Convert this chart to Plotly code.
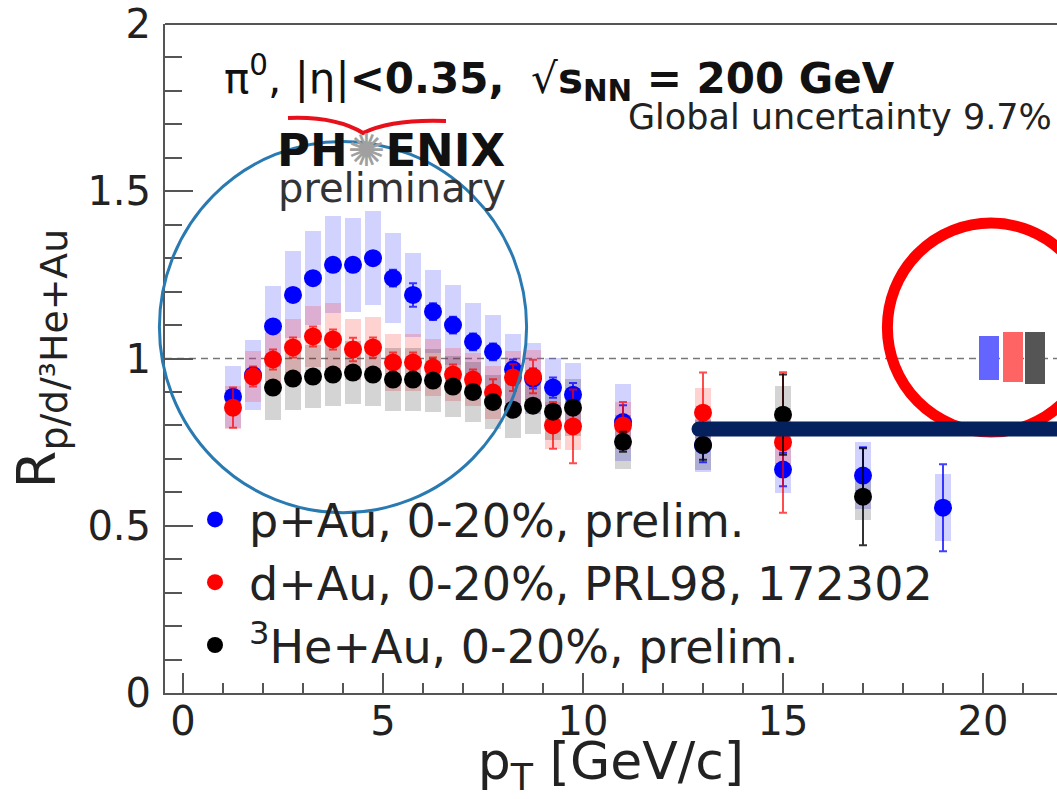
import plotly.graph_objects as go

# ---------------- data ----------------
# p+Au, 0-20% central (preliminary)
pt_pau = [1.25, 1.75, 2.25, 2.75, 3.25, 3.75, 4.25, 4.75, 5.25, 5.75, 6.25, 6.75,
          7.25, 7.75, 8.25, 8.75, 9.25, 9.75, 11, 13, 15, 17, 19]
r_pau = [0.886, 0.95, 1.096, 1.19, 1.24, 1.28, 1.28, 1.30, 1.24, 1.19, 1.14, 1.10,
         1.05, 1.02, 0.967, 0.94, 0.913, 0.892, 0.81, 0.74, 0.668, 0.65, 0.554]
stat_pau = [0.02, 0.02, 0.02, 0.02, 0.02, 0.02, 0.02, 0.02, 0.025, 0.035, 0.025, 0.025,
            0.025, 0.025, 0.03, 0.03, 0.03, 0.035, 0.05, 0.05, 0.05, 0.085, 0.13]
sys_pau = [0.093, 0.105, 0.12, 0.13, 0.14, 0.145, 0.14, 0.14, 0.135, 0.125, 0.125, 0.12,
           0.115, 0.11, 0.105, 0.105, 0.09, 0.095, 0.115, 0.08, 0.07, 0.10, 0.10]

# d+Au, 0-20% central (PRL 98, 172302)
pt_dau = [1.25, 1.75, 2.25, 2.75, 3.25, 3.75, 4.25, 4.75, 5.25, 5.75, 6.25, 6.75,
          7.25, 7.75, 8.25, 8.75, 9.25, 9.75, 11, 13, 15]
r_dau = [0.853, 0.946, 0.997, 1.033, 1.066, 1.057, 1.027, 1.033, 0.988, 0.988, 0.973, 0.952,
         0.937, 0.898, 0.943, 0.946, 0.80, 0.797, 0.80, 0.838, 0.749]
stat_dau = [0.06, 0.03, 0.03, 0.03, 0.03, 0.03, 0.035, 0.03, 0.03, 0.03, 0.03, 0.03,
            0.03, 0.04, 0.04, 0.05, 0.07, 0.11, 0.07, 0.12, 0.21]
sys_dau = [0.065, 0.075, 0.08, 0.085, 0.09, 0.11, 0.09, 0.09, 0.085, 0.085, 0.085, 0.08,
           0.08, 0.08, 0.08, 0.08, 0.07, 0.07, 0.07, 0.075, 0.07]

# 3He+Au, 0-20% central (preliminary)
pt_heau = [2.25, 2.75, 3.25, 3.75, 4.25, 4.75, 5.25, 5.75, 6.25, 6.75, 7.25, 7.75,
           8.25, 8.75, 9.25, 9.75, 11, 13, 15, 17]
r_heau = [0.913, 0.94, 0.946, 0.952, 0.958, 0.952, 0.937, 0.937, 0.934, 0.916, 0.90, 0.87,
          0.847, 0.859, 0.841, 0.853, 0.751, 0.742, 0.832, 0.587]
stat_heau = [0.015, 0.015, 0.015, 0.015, 0.015, 0.015, 0.015, 0.015, 0.015, 0.015, 0.015, 0.02,
             0.02, 0.02, 0.02, 0.02, 0.03, 0.045, 0.12, 0.145]
sys_heau = [0.096, 0.093, 0.095, 0.095, 0.095, 0.095, 0.095, 0.095, 0.095, 0.09, 0.09, 0.08,
            0.085, 0.085, 0.085, 0.085, 0.08, 0.075, 0.085, 0.07]

# global (normalisation) uncertainty boxes at R = 1
glob_x = [20.15, 20.75, 21.3]
glob_lo = [0.937, 0.931, 0.925]
glob_hi = [1.066, 1.078, 1.080]

series_names = ["p+Au, 0-20%, prelim.",
                "d+Au, 0-20%, PRL98, 172302",
                "<sup>3</sup>He+Au, 0-20%, prelim."]
x_ticks = [0, 5, 10, 15, 20]
y_ticks = [0, 0.5, 1, 1.5, 2]

# ---------------- styling ----------------
FONT = "DejaVu Sans"
X_RANGE = [-0.45, 21.85]
Y_RANGE = [0, 2]
W, H = 1057, 799
ML, MR, MT, MB = 165, 0, 24, 106
PW, PH = W - ML - MR, H - MT - MB
AXC = "#555555"


def pxx(v):
    """data x -> paper x"""
    return (v - X_RANGE[0]) / (X_RANGE[1] - X_RANGE[0])


def pxy(v):
    """data y -> paper y"""
    return (v - Y_RANGE[0]) / (Y_RANGE[1] - Y_RANGE[0])


def scr_x(p):
    """screen pixel x -> paper x"""
    return (p - ML) / PW


def scr_y(p):
    """screen pixel y -> paper y"""
    return (H - MB - p) / PH


fig = go.Figure()

# systematic uncertainty boxes
box_w = 0.42
for xs, ys, ss, col in [
    (pt_pau, r_pau, sys_pau, "rgba(90,90,255,0.27)"),
    (pt_dau, r_dau, sys_dau, "rgba(255,50,50,0.22)"),
    (pt_heau, r_heau, sys_heau, "rgba(0,0,0,0.17)"),
]:
    fig.add_trace(go.Bar(
        x=xs, y=[2 * s for s in ss], base=[v - s for v, s in zip(ys, ss)],
        width=box_w, marker=dict(color=col, line=dict(width=0)),
        showlegend=False, hoverinfo="skip"))

# global uncertainty boxes
fig.add_trace(go.Bar(
    x=glob_x, y=[h - l for h, l in zip(glob_hi, glob_lo)], base=glob_lo,
    width=0.48, marker=dict(color=["#6464ff", "#ff6464", "#555555"], line=dict(width=0)),
    showlegend=False, hoverinfo="skip"))

# data points with statistical errors
for xs, ys, es, mc, ec, name in [
    (pt_pau, r_pau, stat_pau, "#0000ff", "rgba(0,0,255,0.75)", series_names[0]),
    (pt_dau, r_dau, stat_dau, "#ff0000", "rgba(255,0,0,0.7)", series_names[1]),
    (pt_heau, r_heau, stat_heau, "#000000", "rgba(0,0,0,0.8)", series_names[2]),
]:
    fig.add_trace(go.Scatter(
        x=xs, y=ys, mode="markers", name=name,
        marker=dict(color=mc, size=18, symbol="circle", line=dict(width=0)),
        error_y=dict(type="data", array=es, color=ec, thickness=2, width=4),
        cliponaxis=False))

shapes = []
# dashed line at R = 1
shapes.append(dict(type="line", xref="paper", yref="y", x0=0, x1=1, y0=1, y1=1,
                   line=dict(color="#777777", width=1.6, dash="7px,5px"), layer="below"))
# top frame line
shapes.append(dict(type="line", xref="paper", yref="paper", x0=0, x1=1, y0=1, y1=1,
                   line=dict(color=AXC, width=2)))

# blue highlight ring around the low-pT enhancement
shapes.append(dict(type="circle", xref="paper", yref="paper",
                   x0=pxx(-0.59), x1=pxx(8.59), y0=pxy(0.539), y1=pxy(1.649),
                   line=dict(color="#2a7ab2", width=3)))
# red highlight ring around the global uncertainty boxes
shapes.append(dict(type="circle", xref="paper", yref="paper",
                   x0=pxx(17.61), x1=pxx(22.79), y0=pxy(0.78), y1=pxy(1.405),
                   line=dict(color="#ff0000", width=11)))
# navy marker line at high pT
line_y = 0.789
shapes.append(dict(type="line", xref="paper", yref="paper",
                   x0=pxx(12.9), x1=1.05, y0=pxy(line_y), y1=pxy(line_y),
                   line=dict(color="#04215e", width=15)))
cap_r = 7.5
shapes.append(dict(type="circle", xref="paper", yref="paper",
                   x0=pxx(12.9) - cap_r / PW, x1=pxx(12.9) + cap_r / PW,
                   y0=pxy(line_y) - cap_r / PH, y1=pxy(line_y) + cap_r / PH,
                   fillcolor="#04215e", line=dict(width=0)))

# PHENIX logo swoosh
pts = [(288, 118), (335, 116), (363, 133), (392, 119), (446, 121)]
pp = [(scr_x(a), scr_y(b)) for a, b in pts]
path = "M {0[0]} {0[1]} Q {1[0]} {1[1]} {2[0]} {2[1]} Q {3[0]} {3[1]} {4[0]} {4[1]}".format(*pp)
shapes.append(dict(type="path", xref="paper", yref="paper", path=path,
                   line=dict(color="#e8101a", width=4)))

annotations = [
    dict(text="π<sup>0</sup>, |η|<b>&lt;0.35,</b>  √<b>s<sub>NN</sub> = 200 GeV</b>",
         x=scr_x(222), y=scr_y(78), xanchor="left", yanchor="middle",
         font=dict(family=FONT, size=42, color="#111111")),
    dict(text="Global uncertainty 9.7%",
         x=scr_x(1054), y=scr_y(117), xanchor="right", yanchor="middle",
         font=dict(family=FONT, size=35, color="#222222")),
    dict(text="<b>PH</b><span style='color:#a0a0a0'>✺</span><b>ENIX</b>",
         x=scr_x(391), y=scr_y(150), xanchor="center", yanchor="middle",
         font=dict(family=FONT, size=45, color="#111111")),
    dict(text="preliminary",
         x=scr_x(392), y=scr_y(188), xanchor="center", yanchor="middle",
         font=dict(family=FONT, size=40, color="#333333")),
]
for a in annotations:
    a.update(xref="paper", yref="paper", showarrow=False)

fig.update_layout(
    width=W, height=H,
    margin=dict(l=ML, r=MR, t=MT, b=MB, autoexpand=False),
    paper_bgcolor="white", plot_bgcolor="white",
    barmode="overlay", bargap=0,
    shapes=shapes, annotations=annotations,
    showlegend=True,
    legend=dict(x=scr_x(181), y=scr_y(483), xanchor="left", yanchor="top",
                font=dict(family=FONT, size=46, color="#222222"),
                bgcolor="rgba(0,0,0,0)", itemwidth=58, tracegroupgap=0),
    font=dict(family=FONT, color="#222222"),
)

fig.update_xaxes(
    range=X_RANGE, tickvals=x_ticks, ticktext=[str(v) for v in x_ticks],
    ticks="inside", ticklen=20, tickwidth=2, tickcolor=AXC,
    minor=dict(dtick=1, ticks="inside", ticklen=10, tickwidth=2, tickcolor=AXC),
    showline=True, linecolor=AXC, linewidth=2, showgrid=False, zeroline=False,
    tickfont=dict(family=FONT, size=40, color="#222222"), ticklabelstandoff=-8,
    title=dict(text="p<sub>T</sub> [GeV/c]", font=dict(family=FONT, size=52, color="#222222"),
               standoff=4),
    automargin=False,
)
fig.update_yaxes(
    range=Y_RANGE, tickvals=y_ticks, ticktext=["0", "0.5", "1", "1.5", "2"],
    ticks="inside", ticklen=28, tickwidth=2, tickcolor=AXC,
    minor=dict(dtick=0.1, ticks="inside", ticklen=17, tickwidth=2, tickcolor=AXC),
    showline=True, linecolor=AXC, linewidth=2, showgrid=False, zeroline=False,
    tickfont=dict(family=FONT, size=40, color="#222222"), ticklabelstandoff=4,
    title=dict(text="R<sub>p/d/³He+Au</sub>", font=dict(family=FONT, size=54, color="#222222"),
               standoff=14),
    automargin=False,
)

fig.write_html("out.html")
